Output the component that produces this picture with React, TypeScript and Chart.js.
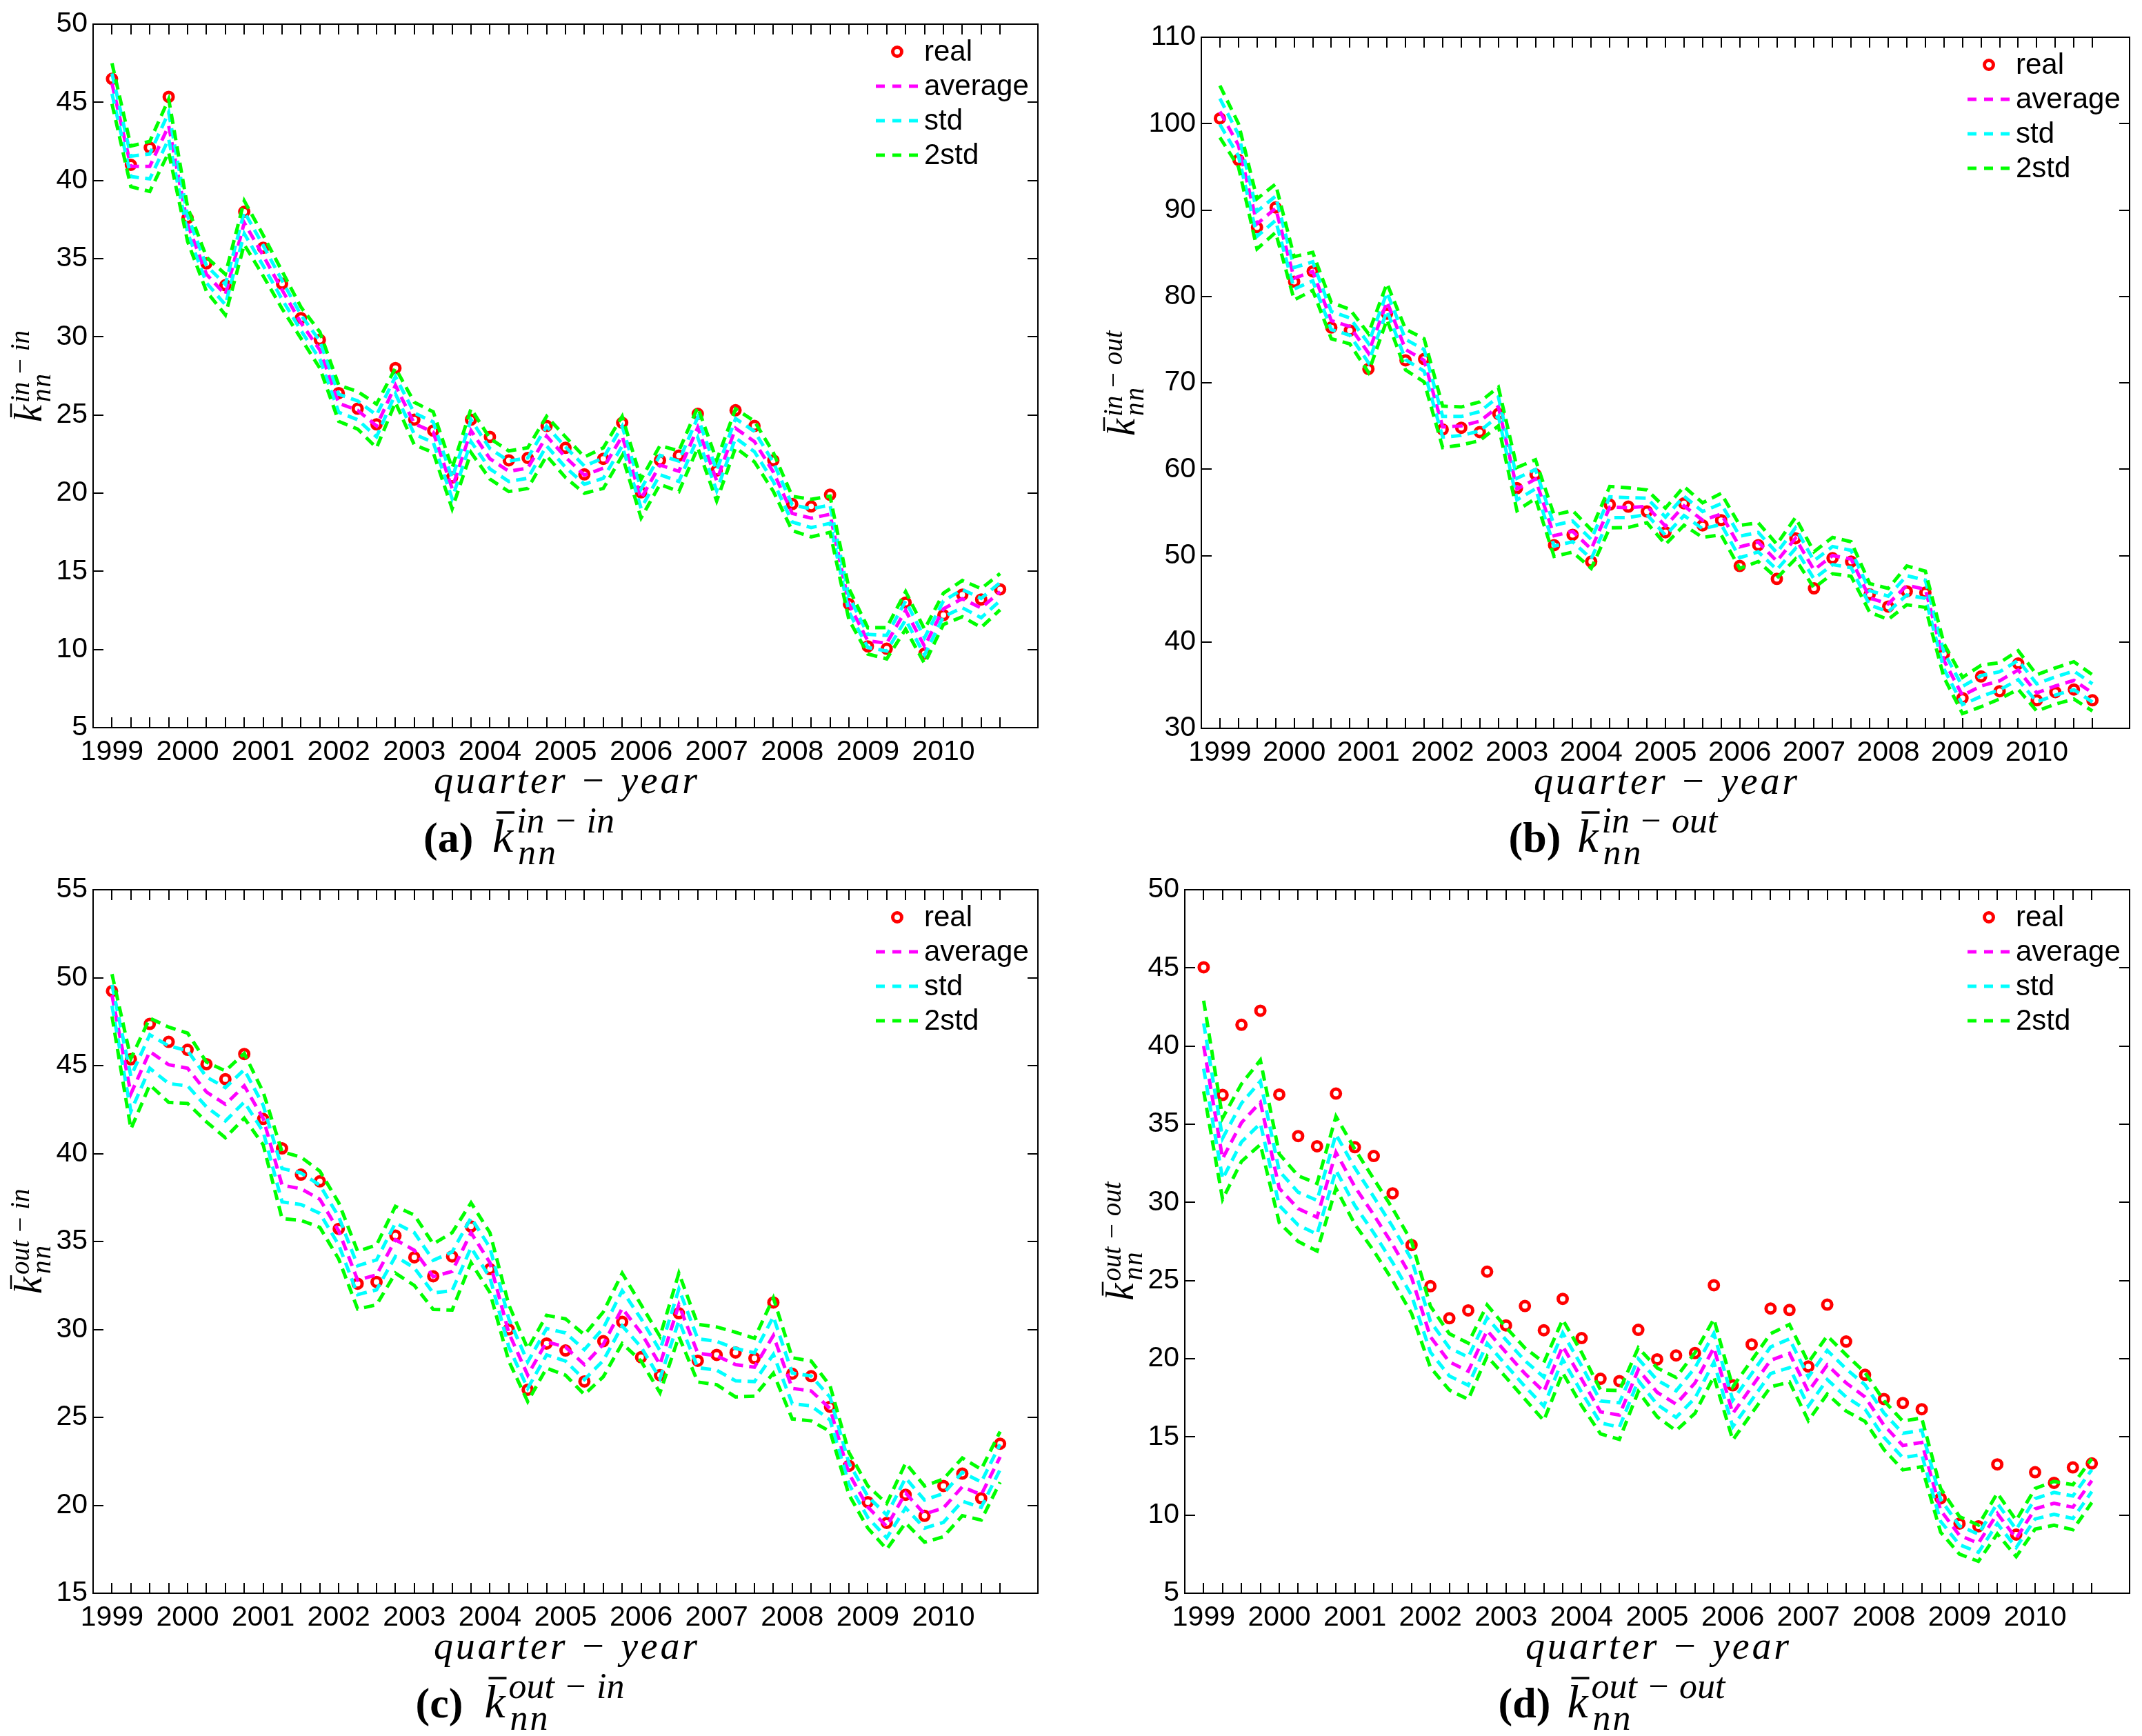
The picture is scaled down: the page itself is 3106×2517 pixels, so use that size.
import { useEffect, useRef } from "react"
import { Chart, registerables } from "chart.js"

Chart.register(...registerables)

// quarters 1..48 = 1999Q1 .. 2010Q4
const quarters = [
  1, 2, 3, 4, 5, 6, 7, 8, 9, 10, 11, 12, 13, 14, 15, 16, 17, 18, 19, 20, 21, 22, 23, 24,
  25, 26, 27, 28, 29, 30, 31, 32, 33, 34, 35, 36, 37, 38, 39, 40, 41, 42, 43, 44, 45, 46, 47, 48,
]
const yearTicks = [1, 5, 9, 13, 17, 21, 25, 29, 33, 37, 41, 45]
const years = ["1999", "2000", "2001", "2002", "2003", "2004", "2005", "2006", "2007", "2008", "2009", "2010"]
const legendLabels = ["real", "average", "std", "2std"]

// (a) in-in
const yTicksA = [5, 10, 15, 20, 25, 30, 35, 40, 45, 50]
const realA = [
  46.5, 41.0, 42.1, 45.35, 37.6, 34.7, 33.3, 38.0, 35.7, 33.4, 31.2, 29.8, 26.4, 25.4, 24.4, 28.0,
  24.7, 24.0, 21.0, 24.7, 23.6, 22.1, 22.25, 24.3, 22.9, 21.2, 22.2, 24.5, 20.05, 22.1, 22.4, 25.07,
  21.45, 25.3, 24.3, 22.1, 19.3, 19.15, 19.9, 12.9, 10.2, 10.05, 13.0, 9.74, 12.2, 13.5, 13.2, 13.85,
]
const avgA = [
  46.2, 40.9, 40.9, 43.5, 37.2, 34.0, 32.7, 37.3, 35.2, 33.0, 30.9, 29.15, 25.75, 25.3, 24.3, 26.9,
  24.45, 23.9, 20.3, 24.0, 22.2, 21.4, 21.6, 23.65, 22.3, 21.15, 21.6, 23.65, 19.65, 21.8, 21.4, 24.2,
  20.8, 24.15, 23.3, 21.35, 18.7, 18.4, 18.65, 12.9, 10.55, 10.4, 12.5, 10.2, 12.6, 13.25, 12.65, 13.7,
]
const sdA = [
  0.65, 0.65, 0.8, 0.85, 0.55, 0.55, 0.65, 0.7, 0.65, 0.6, 0.5, 0.58, 0.58, 0.6, 0.7, 0.55,
  0.68, 0.65, 0.65, 0.7, 0.65, 0.65, 0.65, 0.63, 0.65, 0.58, 0.65, 0.63, 0.62, 0.62, 0.65, 0.65,
  0.65, 0.62, 0.65, 0.62, 0.55, 0.6, 0.58, 0.5, 0.42, 0.5, 0.6, 0.55, 0.5, 0.58, 0.62, 0.58,
]

// (b) in-out
const yTicksB = [30, 40, 50, 60, 70, 80, 90, 100, 110]
const realB = [
  100.6, 95.8, 88.0, 90.3, 81.7, 82.9, 76.4, 76.05, 71.6, 78.0, 72.6, 72.75, 64.6, 64.8, 64.3, 66.4,
  57.8, 59.4, 51.2, 52.4, 49.3, 55.9, 55.66, 55.1, 52.7, 56.05, 53.5, 54.1, 48.8, 51.2, 47.3, 52.0,
  46.2, 49.7, 49.3, 45.5, 44.1, 45.85, 45.7, 38.6, 33.5, 36.0, 34.3, 37.5, 33.25, 34.2, 34.5, 33.25,
]
const avgB = [
  101.4, 97.5, 88.4, 90.2, 82.1, 82.9, 77.2, 76.5, 73.45, 79.4, 73.85, 72.6, 64.9, 65.0, 65.55, 67.25,
  57.7, 58.85, 52.3, 52.8, 50.75, 55.6, 55.55, 55.7, 53.4, 55.75, 54.1, 54.8, 51.0, 51.55, 49.35, 52.0,
  48.35, 50.0, 49.6, 45.1, 44.4, 46.55, 46.1, 37.85, 33.8, 34.9, 35.5, 36.75, 34.1, 34.9, 35.55, 34.1,
]
const sdB = [
  1.5, 1.25, 1.45, 1.4, 1.25, 1.1, 1.05, 1.0, 1.12, 1.05, 1.18, 1.25, 1.2, 1.1, 1.12, 1.12,
  1.25, 1.12, 1.2, 1.2, 1.12, 1.2, 1.15, 0.95, 1.05, 1.12, 1.0, 1.2, 1.25, 1.12, 0.98, 1.2,
  1.05, 1.05, 1.0, 0.83, 0.9, 1.12, 1.05, 0.98, 1.05, 1.2, 1.05, 1.12, 1.05, 1.05, 1.08, 1.05,
]

// (c) out-in
const yTicksC = [15, 20, 25, 30, 35, 40, 45, 50, 55]
const realC = [
  49.24, 45.36, 47.37, 46.35, 45.9, 45.08, 44.23, 45.66, 41.97, 40.29, 38.8, 38.42, 35.72, 32.6, 32.7, 35.33,
  34.1, 33.02, 34.15, 35.85, 33.43, 30.0, 26.57, 29.2, 28.8, 27.04, 29.33, 30.43, 28.42, 27.4, 30.92, 28.22,
  28.55, 28.69, 28.36, 31.53, 27.48, 27.34, 25.6, 22.25, 20.18, 19.0, 20.6, 19.4, 21.1, 21.8, 20.4, 23.5,
]
const avgC = [
  49.0, 43.4, 45.8, 45.05, 44.85, 43.5, 42.8, 43.85, 42.0, 38.2, 38.0, 37.4, 35.6, 32.8, 33.1, 35.1,
  34.5, 33.0, 33.3, 35.5, 33.8, 29.8, 27.4, 29.3, 29.0, 28.0, 29.15, 31.2, 29.8, 28.0, 31.4, 28.65,
  28.5, 28.0, 27.85, 29.65, 26.65, 26.5, 25.5, 21.8, 19.9, 18.8, 20.7, 19.5, 19.85, 21.05, 20.6, 22.75,
]
const sdC = [
  0.6, 1.0, 0.95, 1.07, 1.0, 0.85, 0.95, 0.92, 0.75, 0.95, 0.9, 0.8, 0.8, 0.82, 0.85, 0.95,
  1.0, 0.93, 1.1, 0.85, 0.85, 0.8, 0.75, 0.75, 0.8, 0.85, 0.92, 1.0, 0.8, 0.8, 0.9, 0.82,
  0.82, 0.92, 0.82, 1.07, 0.87, 0.85, 0.65, 0.6, 0.6, 0.65, 0.85, 0.8, 0.82, 0.82, 0.72, 0.72,
]

// (d) out-out
const yTicksD = [5, 10, 15, 20, 25, 30, 35, 40, 45, 50]
const realD = [
  45.04, 36.87, 41.36, 42.26, 36.9, 34.24, 33.59, 36.96, 33.53, 32.97, 30.58, 27.27, 24.64, 22.59, 23.09, 25.57,
  22.13, 23.37, 21.82, 23.83, 21.32, 18.72, 18.57, 21.85, 19.96, 20.21, 20.36, 24.7, 18.3, 20.92, 23.21, 23.12,
  19.5, 23.46, 21.1, 18.97, 17.42, 17.17, 16.77, 11.07, 9.46, 9.28, 13.24, 8.75, 12.74, 12.06, 13.05, 13.3,
]
const avgD = [
  40.0, 32.8, 35.1, 36.4, 30.9, 29.6, 29.05, 33.2, 31.0, 29.2, 27.3, 25.2, 21.4, 19.8, 19.2, 21.8,
  20.4, 19.05, 17.9, 20.8, 18.7, 16.6, 16.4, 19.3, 17.85, 17.1, 18.45, 20.7, 16.5, 18.2, 19.9, 20.35,
  17.9, 19.6, 18.45, 17.55, 15.75, 14.45, 14.65, 10.3, 8.7, 8.2, 10.1, 8.5, 10.4, 10.75, 10.5, 12.2,
]
const sdD = [
  1.45, 1.3, 1.24, 1.35, 1.1, 1.05, 1.08, 1.15, 1.2, 1.15, 1.15, 1.15, 0.98, 0.9, 0.9, 0.82,
  0.8, 0.82, 0.93, 0.85, 0.85, 0.7, 0.78, 0.7, 0.78, 0.85, 0.97, 0.92, 0.85, 0.85, 0.85, 0.92,
  0.93, 0.93, 0.9, 0.78, 0.78, 0.78, 0.78, 0.7, 0.6, 0.58, 0.65, 0.58, 0.65, 0.7, 0.72, 0.7,
]

const RED = "#ff0000"
const MAGENTA = "#ff00ff"
const CYAN = "#00ffff"
const GREEN = "#00ff00"
const SANS = "'Liberation Sans', Arial, Helvetica, sans-serif"
const SERIF = "'Liberation Serif', 'Times New Roman', serif"
const TICK_LEN = 15

// box, inward tick marks on all four sides, and the in-axes legend
const framePlugin = {
  id: "frame",
  afterDraw(chart: any) {
    const { ctx, chartArea: a, scales } = chart
    ctx.save()
    ctx.strokeStyle = "#000"
    ctx.lineWidth = 2
    ctx.setLineDash([])
    ctx.strokeRect(a.left, a.top, a.right - a.left, a.bottom - a.top)
    ctx.beginPath()
    quarters.forEach((q) => {
      const px = Math.round(scales.x.getPixelForValue(q))
      ctx.moveTo(px, a.bottom)
      ctx.lineTo(px, a.bottom - TICK_LEN)
      ctx.moveTo(px, a.top)
      ctx.lineTo(px, a.top + TICK_LEN)
    })
    scales.y.ticks.forEach((t: any) => {
      const py = Math.round(scales.y.getPixelForValue(t.value))
      ctx.moveTo(a.left, py)
      ctx.lineTo(a.left + TICK_LEN, py)
      ctx.moveTo(a.right, py)
      ctx.lineTo(a.right - TICK_LEN, py)
    })
    ctx.stroke()

    const colors = [RED, MAGENTA, CYAN, GREEN]
    ctx.font = `42px ${SANS}`
    ctx.textBaseline = "middle"
    ctx.textAlign = "left"
    legendLabels.forEach((label, k) => {
      const y = a.top + 40 + 50 * k
      ctx.lineWidth = 5
      ctx.strokeStyle = colors[k]
      ctx.beginPath()
      if (k === 0) {
        ctx.setLineDash([])
        ctx.arc(a.right - 204, y, 6.5, 0, Math.PI * 2)
      } else {
        ctx.setLineDash([13, 11])
        ctx.moveTo(a.right - 235, y)
        ctx.lineTo(a.right - 173, y)
      }
      ctx.stroke()
      ctx.fillStyle = "#000"
      ctx.fillText(label, a.right - 165, y + 1)
    })
    ctx.restore()
  },
}

const pts = (vals: number[]) => vals.map((v, i) => ({ x: quarters[i], y: v }))

const dashed = (label: string, color: string, vals: number[], order: number) => ({
  label,
  data: pts(vals),
  borderColor: color,
  backgroundColor: color,
  borderWidth: 5,
  borderDash: [15, 9],
  pointRadius: 0,
  tension: 0,
  fill: false,
  order,
})

interface PanelProps {
  x: number
  y: number
  w: number
  h: number
  left: number
  top: number
  right: number
  bottom: number
  yTicks: number[]
  real: number[]
  avg: number[]
  sd: number[]
}

function Panel({ x, y, w, h, left, top, right, bottom, yTicks, real, avg, sd }: PanelProps) {
  const canvasRef = useRef<HTMLCanvasElement>(null)
  const chartRef = useRef<Chart | null>(null)

  useEffect(() => {
    if (!canvasRef.current) return
    if (chartRef.current) chartRef.current.destroy()

    const std1Hi = avg.map((v, i) => v + sd[i])
    const std1Lo = avg.map((v, i) => v - sd[i])
    const std2Hi = avg.map((v, i) => v + 2 * sd[i])
    const std2Lo = avg.map((v, i) => v - 2 * sd[i])

    chartRef.current = new Chart(canvasRef.current, {
      type: "line",
      data: {
        datasets: [
          {
            label: "real",
            data: pts(real),
            showLine: false,
            pointStyle: "circle",
            pointRadius: 6.5,
            pointBorderWidth: 5,
            pointBorderColor: RED,
            pointBackgroundColor: "rgba(0,0,0,0)",
            borderColor: RED,
            order: 6,
          },
          dashed("average", MAGENTA, avg, 5),
          dashed("std", CYAN, std1Hi, 4),
          dashed("std", CYAN, std1Lo, 3),
          dashed("2std", GREEN, std2Hi, 2),
          dashed("2std", GREEN, std2Lo, 1),
        ],
      } as any,
      options: {
        animation: false,
        responsive: true,
        maintainAspectRatio: false,
        devicePixelRatio: 1,
        events: [],
        layout: { padding: { top, right, left: 0, bottom: 0 } },
        plugins: { legend: { display: false }, tooltip: { enabled: false } },
        scales: {
          x: {
            type: "linear",
            min: 0,
            max: 50,
            grid: { display: false, drawTicks: false },
            border: { display: false },
            afterBuildTicks: (s: any) => {
              s.ticks = yearTicks.map((v) => ({ value: v }))
            },
            afterFit: (s: any) => {
              s.height = bottom
            },
            ticks: {
              autoSkip: false,
              maxRotation: 0,
              minRotation: 0,
              padding: 11,
              color: "#000",
              font: { family: SANS, size: 41 },
              callback: (v: any) => years[yearTicks.indexOf(Number(v))] ?? "",
            },
          },
          y: {
            type: "linear",
            min: yTicks[0],
            max: yTicks[yTicks.length - 1],
            grid: { display: false, drawTicks: false },
            border: { display: false },
            afterBuildTicks: (s: any) => {
              s.ticks = yTicks.map((v) => ({ value: v }))
            },
            afterFit: (s: any) => {
              s.width = left
            },
            ticks: {
              padding: 8,
              color: "#000",
              font: { family: SANS, size: 41 },
              callback: (v: any) => String(v),
            },
          },
        },
      } as any,
      plugins: [framePlugin],
    })

    return () => {
      if (chartRef.current) {
        chartRef.current.destroy()
        chartRef.current = null
      }
    }
  }, [])

  return (
    <div style={{ position: "absolute", left: x, top: y, width: w, height: h }}>
      <canvas ref={canvasRef} />
    </div>
  )
}

// superscript like "in−out": two words around a spaced minus
function Sup({ x, y, size, gap, text }: { x: number; y: number; size: number; gap: number; text: string }) {
  const [l, r] = text.split("−")
  return (
    <text x={x} y={y} fontSize={size}>
      {l}
      <tspan dx={gap}>−</tspan>
      <tspan dx={gap}>{r}</tspan>
    </text>
  )
}

// rotated y label: k-bar with sub "nn" and a superscript
function YLabel({ baseX, centerY, sup, supW }: { baseX: number; centerY: number; sup: string; supW: number }) {
  const startY = centerY + (30 + supW) / 2
  return (
    <g transform={`translate(${baseX},${startY}) rotate(-90)`} fontFamily={SERIF} fontStyle="italic" fill="#000">
      <text x={0} y={0} fontSize={56}>k</text>
      <line x1={7} x2={27} y1={-44} y2={-44} stroke="#000" strokeWidth={2.5} />
      <Sup x={28} y={-18} size={39} gap={9} text={sup} />
      <text x={29} y={13} fontSize={39} letterSpacing={2}>nn</text>
    </g>
  )
}

function Caption({ center, base, tag, sup, supW }: { center: number; base: number; tag: string; sup: string; supW: number }) {
  const left = center - (137 + supW) / 2
  return (
    <g fill="#000">
      <text x={left} y={base} fontFamily={SERIF} fontWeight="bold" fontSize={62}>{tag}</text>
      <text x={left + 100} y={base} fontFamily={SERIF} fontStyle="italic" fontSize={68}>k</text>
      <line x1={left + 106} x2={left + 132} y1={base - 57} y2={base - 57} stroke="#000" strokeWidth={3.5} />
      <g fontFamily={SERIF} fontStyle="italic">
        <Sup x={left + 135} y={base - 28} size={52} gap={13} text={sup} />
        <text x={left + 137} y={base + 18} fontSize={52} letterSpacing={3}>nn</text>
      </g>
    </g>
  )
}

function XTitle({ cx, base }: { cx: number; base: number }) {
  return (
    <text x={cx} y={base} textAnchor="middle" fontFamily={SERIF} fontStyle="italic" fontSize={56} textLength={382} lengthAdjust="spacing" fill="#000">
      quarter − year
    </text>
  )
}

export default function App() {
  return (
    <div style={{ position: "absolute", left: 0, top: 0, width: 3106, height: 2517, background: "#fff", overflow: "hidden" }}>
      <Panel x={0} y={0} w={1550} h={1115} left={135} top={35} right={45} bottom={60} yTicks={yTicksA} real={realA} avg={avgA} sd={sdA} />
      <Panel x={1553} y={0} w={1553} h={1115} left={189} top={54} right={18} bottom={59} yTicks={yTicksB} real={realB} avg={avgB} sd={sdB} />
      <Panel x={0} y={1255} w={1550} h={1115} left={135} top={35} right={45} bottom={60} yTicks={yTicksC} real={realC} avg={avgC} sd={sdC} />
      <Panel x={1553} y={1255} w={1553} h={1115} left={165} top={35} right={18} bottom={60} yTicks={yTicksD} real={realD} avg={avgD} sd={sdD} />
      <svg width={3106} height={2517} style={{ position: "absolute", left: 0, top: 0, pointerEvents: "none" }}>
        <YLabel baseX={60} centerY={545} sup="in−in" supW={104} />
        <YLabel baseX={1645} centerY={556} sup="in−out" supW={122} />
        <YLabel baseX={60} centerY={1800} sup="out−in" supW={122} />
        <YLabel baseX={1643} centerY={1800} sup="out−out" supW={141} />
        <XTitle cx={820} base={1150} />
        <XTitle cx={2415} base={1151} />
        <XTitle cx={820} base={2405} />
        <XTitle cx={2403} base={2405} />
        <Caption center={756} base={1235} tag="(a)" sup="in−in" supW={147} />
        <Caption center={2342} base={1235} tag="(b)" sup="in−out" supW={172} />
        <Caption center={757} base={2490} tag="(c)" sup="out−in" supW={172} />
        <Caption center={2340} base={2490} tag="(d)" sup="out−out" supW={198} />
      </svg>
    </div>
  )
}
